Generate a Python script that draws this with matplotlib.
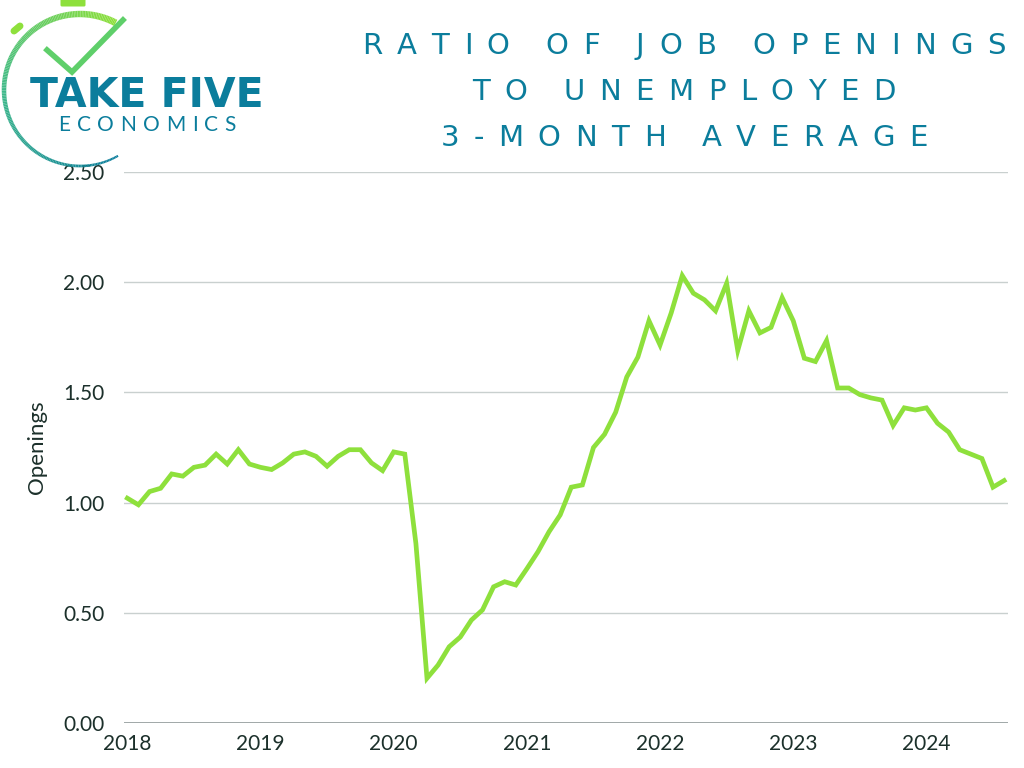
import matplotlib
matplotlib.use("Agg")
import matplotlib.pyplot as plt
from matplotlib.collections import LineCollection
from matplotlib.patches import FancyBboxPatch
from matplotlib.textpath import TextToPath
from matplotlib.font_manager import FontProperties
import numpy as np

# datos: promedio de 3 meses, ene 2018 - ago 2024
ratio = [1.02, 0.99, 1.05, 1.065, 1.13, 1.12, 1.16, 1.17, 1.22, 1.175, 1.24, 1.175,
         1.16, 1.15, 1.18, 1.22, 1.23, 1.21, 1.165, 1.21, 1.24, 1.24, 1.18, 1.145,
         1.23, 1.22, 0.815, 0.203, 0.263, 0.346, 0.39, 0.467, 0.513, 0.618, 0.641, 0.626,
         0.70, 0.777, 0.868, 0.944, 1.07, 1.08, 1.25, 1.31, 1.41, 1.57, 1.66, 1.825,
         1.715, 1.86, 2.03, 1.95, 1.92, 1.87, 1.995, 1.69, 1.87, 1.77, 1.795, 1.93,
         1.825, 1.655, 1.64, 1.735, 1.52, 1.52, 1.49, 1.475, 1.465, 1.35, 1.43, 1.42,
         1.43, 1.36, 1.32, 1.24, 1.22, 1.20, 1.07, 1.10]
years = ['2018', '2019', '2020', '2021', '2022', '2023', '2024']
yticks = [0.0, 0.5, 1.0, 1.5, 2.0, 2.5]

title_lines = ['RATIO OF JOB OPENINGS', 'TO UNEMPLOYED', '3-MONTH AVERAGE']

teal = '#0b7d9c'
lime = '#8ee03c'
dark = '#1c302b'

plt.rcParams['font.family'] = ['Lato', 'DejaVu Sans']

ttp = TextToPath()

def txt_w(s, prop):
    w, h, d = ttp.get_text_width_height_descent(s, prop, ismath=False)
    return w * 100 / 72.0

def char_ws(s, prop, sp):
    return [sp if c == ' ' else txt_w(c, prop) for c in s]

def tracked(axo, s, xc, yb, prop, track, sp=0.0, **kw):
    # texto con espaciado entre letras, centrado en xc (pixeles)
    ws = char_ws(s, prop, sp)
    total = sum(ws) + track * (len(s) - 1)
    xx = xc - total / 2
    for c, w in zip(s, ws):
        if c != ' ':
            axo.text(xx, yb, c, fontproperties=prop, ha='left', va='baseline', **kw)
        xx += w + track

fig = plt.figure(figsize=(10.24, 7.68), dpi=100)
ax = fig.add_axes([124/1024, 45/768, 884/1024, 551/768])

x = np.arange(len(ratio))
ax.plot(x, ratio, color=lime, lw=3.4, solid_joinstyle='miter', zorder=3)

ax.set_ylim(0, 2.5)
ax.set_xlim(-0.3, 79.35)
ax.set_yticks(yticks)
ax.set_yticklabels(['%.2f' % v for v in yticks])
ax.set_xticks(np.arange(len(years)) * 12)
ax.set_xticklabels(years)
ax.tick_params(length=0, labelsize=15, labelcolor=dark)
ax.tick_params(axis='y', pad=14)
ax.tick_params(axis='x', pad=8)
for s in ax.spines.values():
    s.set_visible(False)
ax.grid(axis='y', color='#c9d0cf', lw=1.0)
ax.axhline(0, color='#9aa3a2', lw=1.3, zorder=2)
ax.set_ylabel('Openings', fontsize=16, color=dark, labelpad=12)

# capa en pixeles para titulo y logo
ov = fig.add_axes([0, 0, 1, 1], zorder=5)
ov.set_xlim(0, 1024)
ov.set_ylim(768, 0)
ov.axis('off')
ov.patch.set_alpha(0)

tprop = FontProperties(family='DejaVu Sans', size=21)
l0 = title_lines[0]
letters = sum(txt_w(c, tprop) for c in l0 if c != ' ')
nsp = l0.count(' ')
track = (643 - letters) / (len(l0) - 1 + 0.5 * nsp)
for line, yb in zip(title_lines, [54, 100, 146]):
    tracked(ov, line, 684, yb, tprop, track, sp=0.5 * track, color=teal)

# logo
cx, cy, r = 80, 90, 76
ang = np.linspace(np.radians(62), np.radians(300), 200)
px = cx + r * np.cos(ang)
py = cy - r * np.sin(ang)
pts = np.array([px, py]).T.reshape(-1, 1, 2)
segs = np.concatenate([pts[:-1], pts[1:]], axis=1)
cmap = matplotlib.colors.LinearSegmentedColormap.from_list('lg', [lime, '#3fb98a', teal])
lc = LineCollection(segs, cmap=cmap, linewidths=np.linspace(5, 1.5, len(segs)))
lc.set_array(np.linspace(0, 1, len(segs)))
ov.add_collection(lc)
ov.add_patch(FancyBboxPatch((62, 0), 22, 5, boxstyle='round,pad=1.5', fc=lime, ec='none'))
ov.plot([14, 20], [31, 26], color=lime, lw=5, solid_capstyle='round')
ov.plot([47, 72, 123], [50, 72, 20], color='#5fcf6a', lw=4.0, solid_joinstyle='miter')
ov.text(147, 96, 'TAKE FIVE', ha='center', va='center', fontsize=29.5,
        fontweight='bold', color=teal, family='DejaVu Sans')
eprop = FontProperties(family='Lato', size=15)
tracked(ov, 'ECONOMICS', 147, 131, eprop, 6.5, color=teal)

fig.savefig('out.png', dpi=100)
